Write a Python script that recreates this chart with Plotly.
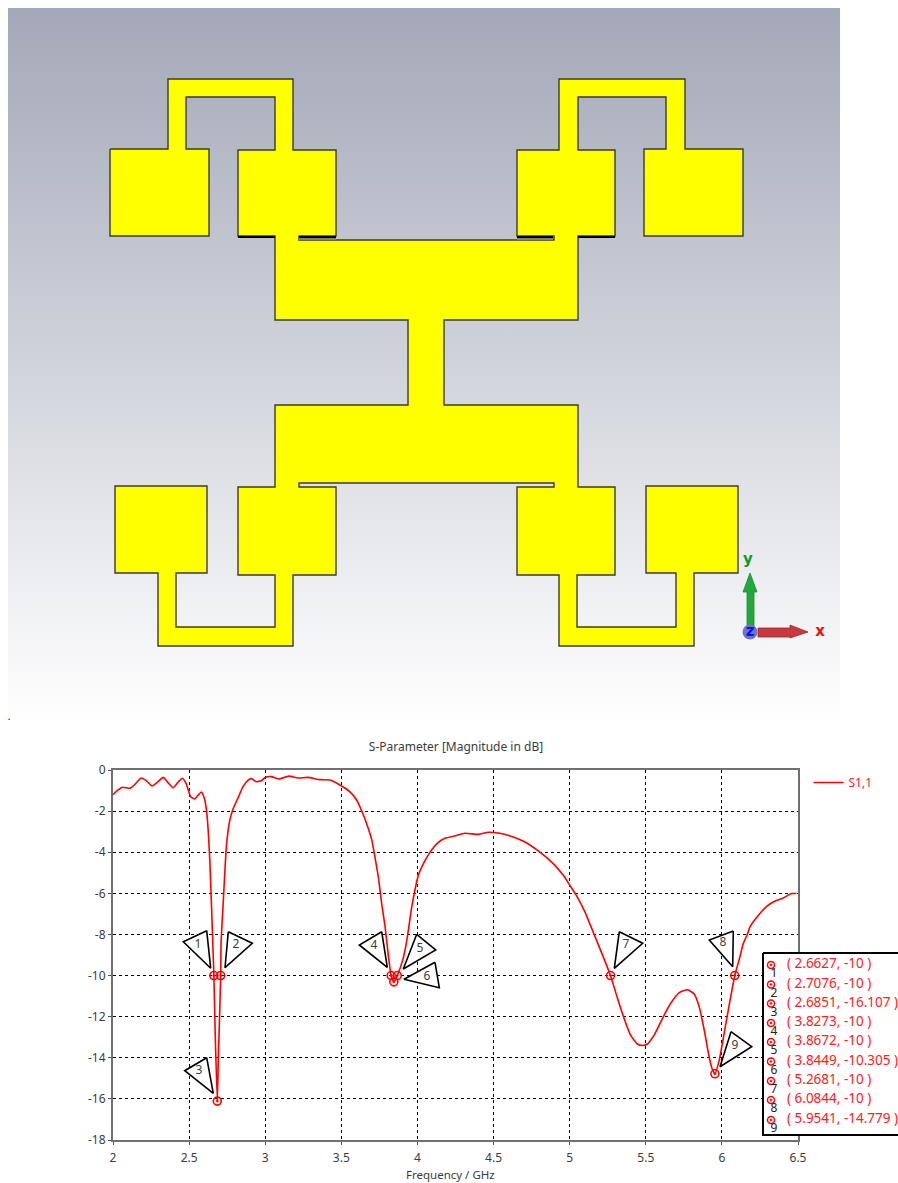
import plotly.graph_objects as go

W, H = 898, 1183
FONT = "Noto Sans"
TXT = "#3c3c3c"
RED = "#ff0000"

def fx(px):
    return px / W

def fy(py):
    return 1 - py / H

# ---- S-parameter data ----
freq = [2.0,2.033,2.066,2.11,2.14,2.186,2.22,2.257,2.296,2.33,2.36,2.395,2.43,2.456,2.48,2.51,2.537,2.56,2.58,2.6,
        2.614,2.625,2.636,2.647,2.6627,2.672,2.6851,2.692,2.70,2.7076,2.71,2.723,2.745,2.767,2.79,2.82,2.855,2.89,2.91,
        2.94,2.975,3.0,3.04,3.09,3.155,3.215,3.28,3.36,3.425,3.49,3.555,3.6,3.645,3.677,3.7,3.72,3.743,3.765,3.787,3.81,
        3.8273,3.8449,3.8672,3.905,3.93,3.963,4.007,4.04,4.085,4.13,4.18,4.25,4.31,4.4,4.466,4.54,4.605,4.70,4.80,4.89,
        4.956,5.0,5.044,5.1,5.153,5.22,5.2681,5.314,5.357,5.40,5.445,5.478,5.51,5.555,5.61,5.664,5.72,5.774,5.818,5.85,
        5.884,5.912,5.934,5.9541,5.983,6.015,6.05,6.0844,6.118,6.14,6.167,6.184,6.24,6.294,6.35,6.40,6.458,6.49]
s11 = [-1.2,-0.97,-0.84,-0.89,-0.73,-0.39,-0.53,-0.78,-0.57,-0.36,-0.6,-0.86,-0.57,-0.4,-0.65,-1.3,-1.41,-1.22,-1.07,-1.38,
       -1.95,-2.9,-4.4,-6.6,-10,-13.0,-16.107,-14.0,-12.0,-10,-8.4,-6.6,-3.7,-2.45,-1.87,-1.38,-0.8,-0.48,-0.42,
       -0.57,-0.52,-0.36,-0.32,-0.44,-0.3,-0.39,-0.36,-0.47,-0.49,-0.73,-1.05,-1.46,-2.19,-2.84,-3.4,-4.2,-5.2,-6.5,-7.6,-9.1,
       -10,-10.305,-10,-9.2,-8.3,-6.65,-5.1,-4.54,-3.97,-3.57,-3.32,-3.2,-3.08,-3.13,-3.03,-3.08,-3.2,-3.48,-3.97,-4.54,
       -5.1,-5.6,-6.1,-6.9,-7.86,-9.08,-10,-11.1,-12.07,-12.9,-13.33,-13.4,-13.33,-12.9,-12.08,-11.35,-10.83,-10.69,-10.9,-11.5,
       -12.65,-13.8,-14.5,-14.779,-14.1,-12.8,-11.35,-10,-9.1,-8.45,-8.0,-7.64,-7.07,-6.63,-6.37,-6.24,-6.01,-6.01]

mark_freq = [2.6627,2.7076,2.6851,3.8273,3.8672,3.8449,5.2681,6.0844,5.9541]
mark_val = [-10,-10,-16.107,-10,-10,-10.305,-10,-10,-14.779]
mark_ids = ["1","2","3","4","5","6","7","8","9"]

x_ticks = [2,2.5,3,3.5,4,4.5,5,5.5,6,6.5]
x_labels = ["2","2.5","3","3.5","4","4.5","5","5.5","6","6.5"]
y_ticks = [0,-2,-4,-6,-8,-10,-12,-14,-16,-18]
y_labels = ["0","-2","-4","-6","-8","-10","-12","-14","-16","-18"]

# ---- annotation pennants (page pixels) ----
pennants = [
    [(206.7,930.7),(183.3,941.7),(210.7,968.3)],
    [(228.3,931.7),(252.3,943.3),(225,967.7)],
    [(206.7,1057.7),(184.7,1070.7),(213.3,1093.3)],
    [(381.7,931.7),(359.3,945),(387.3,967.3)],
    [(416.7,934.3),(435.7,950),(403.3,969)],
    [(435,962.3),(439.3,987.7),(404,979.3)],
    [(619.3,931.7),(642.7,943.3),(614.3,968.3)],
    [(733.3,931),(709.3,940),(732.7,966.7)],
    [(731,1031.7),(751.7,1046.7),(720,1066.7)],
]
pennant_label_x = [198,236,199,374,420,427,626,723,735]
pennant_label_y = [945,945,1071,946,949,977,945,943,1046]

# ---- schematic outline (page pixels) ----
antenna = [(110,149),(168,149),(168,79),(293,79),(293,150),(336,150),(336,236),(299,236),(299,240),(554,240),(554,236),
           (517,236),(517,150),(559,150),(559,79),(685,79),(685,149),(743,149),(743,236),(644,236),(644,149),(666,149),
           (666,97),(578,97),(578,150),(615,150),(615,236),(578,236),(578,320),(444,320),(444,405),(578,405),(578,487),
           (615,487),(615,575),(577,575),(577,627),(676,627),(676,573),(646,573),(646,486),(738,486),(738,573),(694,573),
           (694,646),(559,646),(559,575),(517,575),(517,487),(554,487),(554,483),(299,483),(299,487),(336,487),(336,575),
           (293,575),(293,646),(158,646),(158,573),(115,573),(115,486),(207,486),(207,573),(176,573),(176,627),(275,627),
           (275,575),(238,575),(238,487),(275,487),(275,405),(408,405),(408,320),(275,320),(275,236),(238,236),(238,150),
           (275,150),(275,97),(186,97),(186,149),(209,149),(209,236),(110,236),(110,149)]
dark_edges = [[(238,237),(275,237)],[(299,237),(336,237)],[(517,237),(553,237)],[(578,237),(615,237)]]
grey_slots = [[(299,239),(336,239)],[(517,239),(553,239)]]

fig = go.Figure()

def poly(pts, fill, line="rgba(0,0,0,0)", width=0, **kw):
    fig.add_trace(go.Scatter(x=[p[0] for p in pts], y=[p[1] for p in pts], xaxis="x2", yaxis="y2", mode="lines",
                             fill="toself", fillcolor=fill, line=dict(color=line, width=width),
                             showlegend=False, hoverinfo="skip", **kw))

# main chart
fig.add_trace(go.Scatter(x=freq, y=s11, mode="lines", name="S1,1",
                         line=dict(color=RED, width=1.6, shape="spline", smoothing=0.5), hoverinfo="skip"))
fig.add_trace(go.Scatter(x=mark_freq, y=mark_val, mode="markers", showlegend=False, hoverinfo="skip",
                         marker=dict(symbol="circle-open-dot", size=8, color=RED, line=dict(color=RED, width=1.6))))

# schematic background gradient
bg = [(8,8),(840,8),(840,722),(8,722),(8,8)]
fig.add_trace(go.Scatter(x=[p[0] for p in bg], y=[p[1] for p in bg], xaxis="x2", yaxis="y2", mode="lines",
                         line=dict(width=0), fill="toself", showlegend=False, hoverinfo="skip",
                         fillgradient=dict(type="vertical", start=8, stop=722,
                                           colorscale=[[0,"rgb(163,168,184)"],[1,"rgb(255,255,255)"]])))
poly(antenna, "#ffff00", "#3a3a3a", 1.4)
for seg, col in [(s, "#808080") for s in grey_slots] + [(s, "#000000") for s in dark_edges]:
    fig.add_trace(go.Scatter(x=[p[0] for p in seg], y=[p[1] for p in seg], xaxis="x2", yaxis="y2", mode="lines",
                             line=dict(color=col, width=2), showlegend=False, hoverinfo="skip"))

# axis triad
poly([(747,632),(747,592),(743,592),(750,573),(757,592),(754,592),(754,632),(747,632)], "#21a83a", "#1c8a30", 0.8)
poly([(758,628),(790,628),(790,625),(808,632),(790,638),(790,637),(758,637),(758,628)], "#c8383c", "#9a2a2c", 0.8)
fig.add_trace(go.Scatter(x=[750], y=[632], xaxis="x2", yaxis="y2", mode="markers+text", text=["<b>z</b>"],
                         textposition="middle center", textfont=dict(family="DejaVu Sans", size=15, color="#1010ee"),
                         marker=dict(size=15, color="#6f74c4"), showlegend=False, hoverinfo="skip"))
fig.add_trace(go.Scatter(x=[748,820], y=[560,632], xaxis="x2", yaxis="y2", mode="text", text=["<b>y</b>","<b>x</b>"],
                         textposition="middle center", showlegend=False, hoverinfo="skip",
                         textfont=dict(family="DejaVu Sans", size=15, color=["#149a20","#f01010"])))
fig.add_trace(go.Scatter(x=[9], y=[717], xaxis="x2", yaxis="y2", mode="text", text=["."], showlegend=False,
                         hoverinfo="skip", textfont=dict(family=FONT, size=10, color="#000000")))

# pennants
for tri in pennants:
    poly(tri + [tri[0]], "#ffffff", "#000000", 1.6)
fig.add_trace(go.Scatter(x=pennant_label_x, y=pennant_label_y, xaxis="x2", yaxis="y2", mode="text", text=mark_ids,
                         textposition="middle center", textfont=dict(family=FONT, size=12, color=TXT),
                         showlegend=False, hoverinfo="skip"))

# marker table
poly([(763,953),(905,953),(905,1135),(763,1135),(763,953)], "#ffffff", "#000000", 2)
row_y = [965,984.5,1003.5,1023,1042,1061.5,1081,1100,1120]
table_rows = ["( %g, %g )" % (f, v) for f, v in zip(mark_freq, mark_val)]
fig.add_trace(go.Scatter(x=[771]*9, y=row_y, xaxis="x2", yaxis="y2", mode="markers", showlegend=False, hoverinfo="skip",
                         marker=dict(symbol="circle-open-dot", size=7, color=RED, line=dict(color=RED, width=1.5))))
fig.add_trace(go.Scatter(x=[774]*9, y=[r+9 for r in row_y], xaxis="x2", yaxis="y2", mode="text", text=mark_ids,
                         textposition="middle center", textfont=dict(family=FONT, size=12, color="#202020"),
                         showlegend=False, hoverinfo="skip"))
fig.add_trace(go.Scatter(x=[787]*9, y=row_y, xaxis="x2", yaxis="y2", mode="text", text=table_rows,
                         textposition="middle right", textfont=dict(family=FONT, size=13.5, color="#ff2020"),
                         showlegend=False, hoverinfo="skip"))

grid = dict(showgrid=True, gridcolor="#000000", gridwidth=1, griddash="3px,3px", zeroline=False)
fig.update_layout(
    width=W, height=H, autosize=False, margin=dict(l=0, r=0, t=0, b=0, pad=0, autoexpand=False),
    paper_bgcolor="#ffffff", plot_bgcolor="rgba(0,0,0,0)",
    font=dict(family=FONT, size=12, color=TXT),
    title=dict(text="S-Parameter [Magnitude in dB]", x=fx(456), xanchor="center", y=fy(747), yanchor="middle",
               font=dict(size=12, color=TXT)),
    annotations=[dict(text="Frequency / GHz", xref="paper", yref="paper", x=fx(450), y=fy(1174), xanchor="center",
                      yanchor="middle", showarrow=False, font=dict(size=11.5, color=TXT))],
    xaxis=dict(domain=[fx(113), fx(798)], range=[2, 6.5], tickvals=x_ticks, ticktext=x_labels, ticklabelstandoff=3,
               anchor="y", linecolor="#707070", linewidth=2, mirror=True, ticks="outside", ticklen=3, tickcolor="#505050", **grid),
    yaxis=dict(domain=[fy(1140), fy(770)], range=[-18, 0], tickvals=y_ticks, ticktext=y_labels,
               anchor="x", linecolor="#707070", linewidth=2, mirror=True, ticks="outside", ticklen=3, tickcolor="#505050", **grid),
    xaxis2=dict(domain=[0, 1], range=[0, W], visible=False, anchor="y2", fixedrange=True),
    yaxis2=dict(domain=[0, 1], range=[H, 0], visible=False, anchor="x2", fixedrange=True),
    showlegend=True,
    legend=dict(x=fx(808.5), y=fy(768), xanchor="left", yanchor="top", bgcolor="rgba(0,0,0,0)", borderwidth=0,
                font=dict(size=12, color="#ff2020")),
)
# The page's default 8 px body margin would push the 898x1183 figure out of the window.
fig.write_html("out.html", config={"displayModeBar": False},
               post_script="document.body.style.margin='0';document.documentElement.style.overflow='hidden';")
